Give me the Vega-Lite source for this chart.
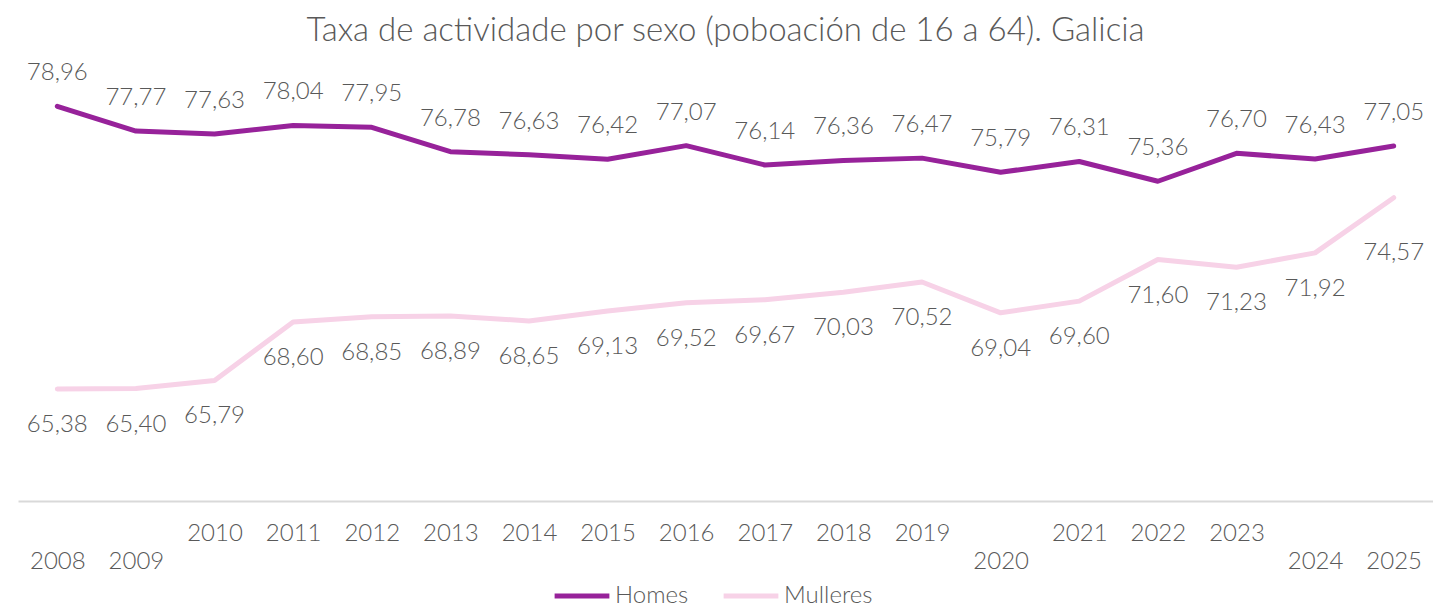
{
  "$schema": "https://vega.github.io/schema/vega-lite/v6.json",
  "autosize": "none",
  "width": 1415,
  "height": 458,
  "padding": {"left": 18, "top": 43, "right": 0, "bottom": 107},
  "background": "white",
  "config": {
    "view": {"stroke": null},
    "font": "Lato",
    "locale": {"number": {"decimal": ",", "thousands": ".", "grouping": [3], "currency": ["", " €"]}}
  },
  "title": {
    "text": "Taxa de actividade por sexo (poboación de 16 a 64). Galicia",
    "font": "Lato",
    "fontSize": 33,
    "fontWeight": 300,
    "color": "#595959",
    "anchor": "middle",
    "offset": -5
  },
  "data": {
    "values": [
      {"year": "2008", "serie": "Homes", "v": 78.96},
      {"year": "2009", "serie": "Homes", "v": 77.77},
      {"year": "2010", "serie": "Homes", "v": 77.63},
      {"year": "2011", "serie": "Homes", "v": 78.04},
      {"year": "2012", "serie": "Homes", "v": 77.95},
      {"year": "2013", "serie": "Homes", "v": 76.78},
      {"year": "2014", "serie": "Homes", "v": 76.63},
      {"year": "2015", "serie": "Homes", "v": 76.42},
      {"year": "2016", "serie": "Homes", "v": 77.07},
      {"year": "2017", "serie": "Homes", "v": 76.14},
      {"year": "2018", "serie": "Homes", "v": 76.36},
      {"year": "2019", "serie": "Homes", "v": 76.47},
      {"year": "2020", "serie": "Homes", "v": 75.79},
      {"year": "2021", "serie": "Homes", "v": 76.31},
      {"year": "2022", "serie": "Homes", "v": 75.36},
      {"year": "2023", "serie": "Homes", "v": 76.70},
      {"year": "2024", "serie": "Homes", "v": 76.43},
      {"year": "2025", "serie": "Homes", "v": 77.05},
      {"year": "2008", "serie": "Mulleres", "v": 65.38},
      {"year": "2009", "serie": "Mulleres", "v": 65.40},
      {"year": "2010", "serie": "Mulleres", "v": 65.79},
      {"year": "2011", "serie": "Mulleres", "v": 68.60},
      {"year": "2012", "serie": "Mulleres", "v": 68.85},
      {"year": "2013", "serie": "Mulleres", "v": 68.89},
      {"year": "2014", "serie": "Mulleres", "v": 68.65},
      {"year": "2015", "serie": "Mulleres", "v": 69.13},
      {"year": "2016", "serie": "Mulleres", "v": 69.52},
      {"year": "2017", "serie": "Mulleres", "v": 69.67},
      {"year": "2018", "serie": "Mulleres", "v": 70.03},
      {"year": "2019", "serie": "Mulleres", "v": 70.52},
      {"year": "2020", "serie": "Mulleres", "v": 69.04},
      {"year": "2021", "serie": "Mulleres", "v": 69.60},
      {"year": "2022", "serie": "Mulleres", "v": 71.60},
      {"year": "2023", "serie": "Mulleres", "v": 71.23},
      {"year": "2024", "serie": "Mulleres", "v": 71.92},
      {"year": "2025", "serie": "Mulleres", "v": 74.57}
    ]
  },
  "encoding": {
    "x": {
      "field": "year",
      "type": "ordinal",
      "scale": {"type": "point", "padding": 0.5},
      "axis": {
        "title": null,
        "labelAngle": 0,
        "labelFont": "Lato",
        "labelFontSize": 24,
        "labelFontWeight": 300,
        "labelColor": "#595959",
        "labelBaseline": "top",
        "labelPadding": {"condition": {"test": "indexof(['2008','2009','2020','2024','2025'], datum.label) >= 0", "value": 48}, "value": 20},
        "ticks": false,
        "domainColor": "#d9d9d9",
        "domainWidth": 2,
        "grid": false
      }
    },
    "y": {
      "field": "v",
      "type": "quantitative",
      "scale": {"domain": [60, 82], "nice": false, "zero": false},
      "axis": null
    }
  },
  "layer": [
    {
      "mark": {"type": "line", "strokeWidth": 5, "strokeCap": "round", "strokeJoin": "round"},
      "encoding": {
        "color": {
          "field": "serie",
          "type": "nominal",
          "scale": {"domain": ["Homes", "Mulleres"], "range": ["#97229A", "#F7D2E7"]},
          "legend": {
            "title": null,
            "orient": "none",
            "direction": "horizontal",
            "legendX": 534,
            "legendY": 523,
            "symbolType": "stroke",
            "symbolStrokeWidth": 5,
            "symbolSize": 3000,
            "labelFont": "Lato",
            "labelFontSize": 24,
            "labelFontWeight": 300,
            "labelColor": "#595959",
            "labelOffset": 3,
            "columnPadding": 24
          }
        }
      }
    },
    {
      "transform": [{"filter": "datum.serie === 'Homes'"}],
      "mark": {"type": "text", "font": "Lato", "fontSize": 24, "fontWeight": 300, "color": "#595959", "dy": -33},
      "encoding": {"text": {"field": "v", "type": "quantitative", "format": ".2f"}}
    },
    {
      "transform": [{"filter": "datum.serie === 'Mulleres'"}],
      "mark": {"type": "text", "font": "Lato", "fontSize": 24, "fontWeight": 300, "color": "#595959", "dy": {"expr": "datum.year === '2025' ? 55 : 36"}},
      "encoding": {"text": {"field": "v", "type": "quantitative", "format": ".2f"}}
    }
  ]
}
